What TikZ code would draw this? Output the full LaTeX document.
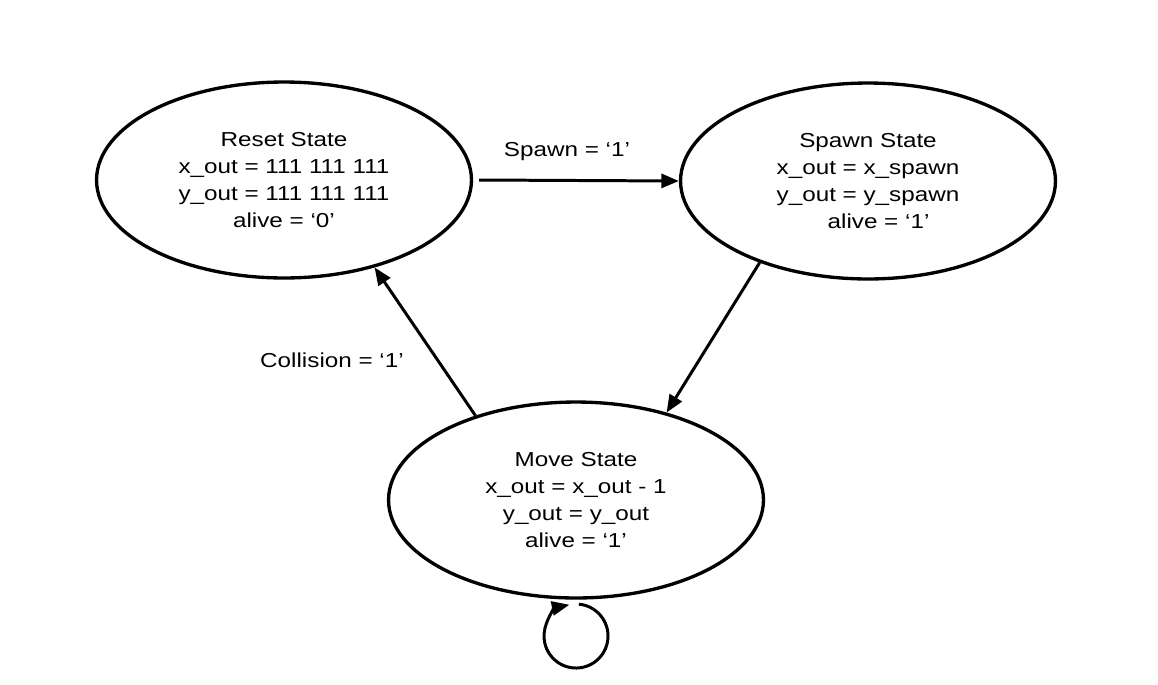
\documentclass[tikz,border=0pt]{standalone}
\usepackage{fontspec}
\newfontfamily\lab[FakeStretch=1.2]{Liberation Sans}
\usetikzlibrary{shapes.geometric,arrows.meta}
\begin{document}
\begin{tikzpicture}[x=0.02cm,y=-0.02cm,
  statebox/.style={ellipse,draw,line width=1.9pt,minimum width=7.5cm,minimum height=3.92cm,
    inner sep=0pt,align=center,font=\lab\fontsize{11.5}{15.4}\selectfont},
  lbl/.style={font=\lab\fontsize{11.5}{15.4}\selectfont,inner sep=0pt},
  arr/.style={line width=1.7pt,-{Triangle[length=10pt,width=8pt]}}]
\path[use as bounding box] (0,0) rectangle (1158,684);
\node[statebox] (reset) at (284,180) {Reset State\\x\_out = 111 111 111\\y\_out = 111 111 111\\alive = ‘0’};
\node[statebox] (spawn) at (868,181) {Spawn State\\x\_out = x\_spawn\\y\_out = y\_spawn\\\hspace*{12pt}alive = ‘1’};
\node[statebox] (move) at (576,500) {Move State\\x\_out = x\_out - 1\\y\_out = y\_out\\alive = ‘1’};
\node[lbl] (lspawn) at (567,152) {Spawn = ‘1’};
\node[lbl] (lcoll) at (332,360) {Collision = ‘1’};
\draw[arr] ([xshift=0.12cm]reset.east) -- (spawn.west);
\draw[arr] (spawn.217) -- (move.44);
\draw[arr] (move.140) -- (reset.316);
\coordinate (loopstart) at ([xshift=0.056cm,yshift=-0.09cm]move.south);
\draw[arr] (loopstart) arc[start angle=85,end angle=-258,radius=0.64cm];
\end{tikzpicture}
\end{document}
